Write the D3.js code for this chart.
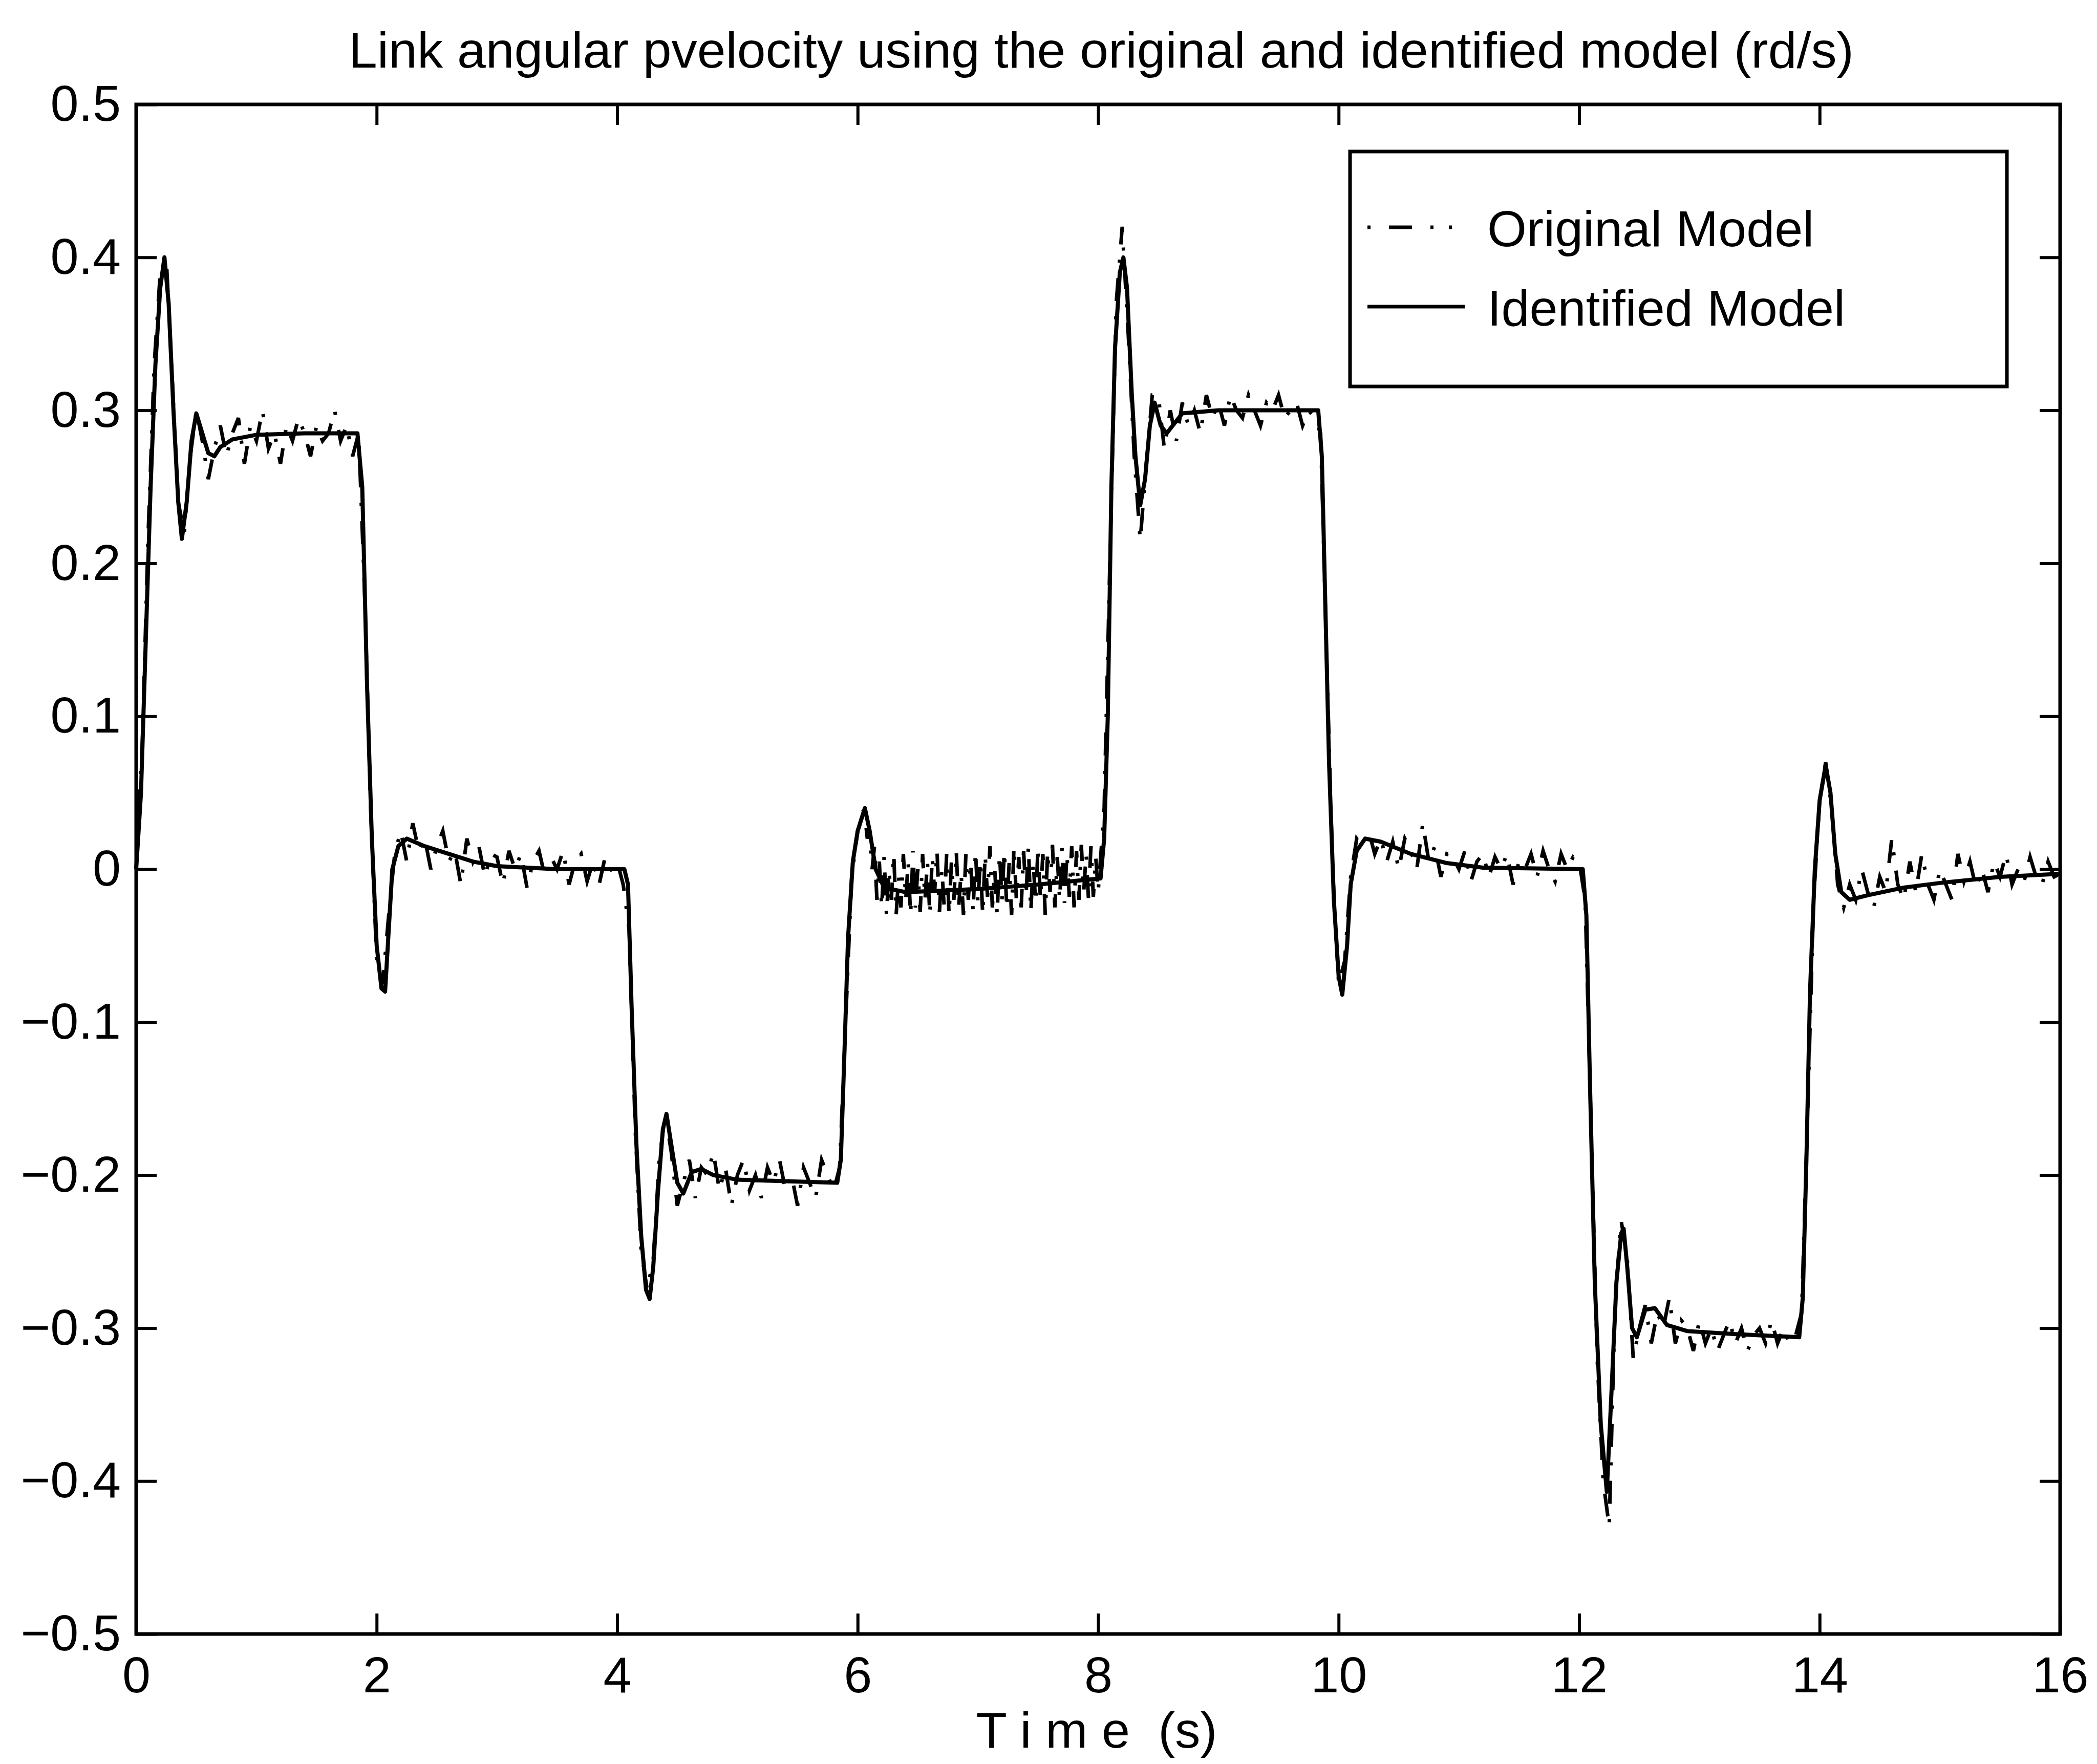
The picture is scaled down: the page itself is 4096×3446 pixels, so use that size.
<!DOCTYPE html>
<html lang="en">
<head>
  <meta charset="UTF-8">
  <title>Link angular velocity</title>
  <script src="https://cdn.jsdelivr.net/npm/d3@7"></script>
  <style>
    body { margin: 0; background: #fff; }
    text { font-family: "Liberation Sans", Arial, Helvetica, sans-serif; fill: #000; }
  </style>
</head>
<body>
  <div id="chart"></div>

  <script>
    const width = 4096,
      height = 3446;

    const margin = {left: 266, right: 4096 - 4024, top: 204, bottom: 3446 - 3192};

    const xTicks = [0, 2, 4, 6, 8, 10, 12, 14, 16];
    const yTicks = [-0.5, -0.4, -0.3, -0.2, -0.1, 0, 0.1, 0.2, 0.3, 0.4, 0.5];

    // identified model, read at uneven times
    const identTime = [
      0, 0.04, 0.08, 0.12, 0.16, 0.2, 0.235, 0.27, 0.31, 0.35, 0.38, 0.42, 0.46, 0.5, 0.55, 0.6, 0.65, 0.7, 0.8, 1.0, 1.4,
      1.84, 1.88, 1.92, 1.96, 2.0, 2.04, 2.07, 2.1, 2.13, 2.18, 2.25, 2.4, 2.6, 2.8, 3.0, 3.5,
      4.06, 4.09, 4.12, 4.16, 4.2, 4.24, 4.27, 4.3, 4.34, 4.38, 4.41, 4.45, 4.5, 4.55, 4.62, 4.7, 4.8, 5.0, 5.4,
      5.83, 5.86, 5.89, 5.92, 5.96, 6.0, 6.06, 6.1, 6.15, 6.22, 6.4, 7.0, 7.5,
      8.02, 8.05, 8.08, 8.11, 8.14, 8.18, 8.21, 8.24, 8.28, 8.31, 8.35, 8.39, 8.43, 8.47, 8.52, 8.57, 8.7, 9.0,
      9.83, 9.86, 9.89, 9.92, 9.96, 10.0, 10.03, 10.07, 10.1, 10.15, 10.22, 10.35, 10.6, 10.9, 11.2,
      12.03, 12.06, 12.09, 12.13, 12.18, 12.23, 12.27, 12.31, 12.35, 12.37, 12.4, 12.44, 12.48, 12.55, 12.63, 12.73, 12.9, 13.3,
      13.83, 13.86, 13.89, 13.92, 13.96, 14.0, 14.05, 14.09, 14.13, 14.18, 14.25, 14.4, 14.7, 15.0, 15.5, 16.0
    ];
    const identValue = [
      0, 0.05, 0.15, 0.25, 0.33, 0.38, 0.40, 0.37, 0.30, 0.24, 0.216, 0.24, 0.28, 0.298, 0.285, 0.272, 0.27, 0.276, 0.281, 0.284, 0.285,
      0.285, 0.25, 0.12, 0.02, -0.05, -0.078, -0.08, -0.04, 0.0, 0.015, 0.02, 0.015, 0.01, 0.005, 0.002, 0.0,
      0.0, -0.01, -0.09, -0.18, -0.24, -0.275, -0.281, -0.26, -0.21, -0.17, -0.16, -0.18, -0.205, -0.212, -0.198, -0.196, -0.2, -0.203, -0.204,
      -0.205, -0.19, -0.12, -0.045, 0.005, 0.025, 0.04, 0.025, 0.0, -0.012, -0.015, -0.013, -0.01,
      -0.006, 0.02, 0.1, 0.25, 0.34, 0.39, 0.40, 0.38, 0.31, 0.27, 0.238, 0.255, 0.29, 0.305, 0.29, 0.285, 0.298, 0.30,
      0.30, 0.27, 0.17, 0.07, -0.02, -0.07, -0.082, -0.05, -0.01, 0.012, 0.02, 0.018, 0.01, 0.004, 0.001,
      0.0, -0.03, -0.14, -0.27, -0.363, -0.407, -0.34, -0.27, -0.238, -0.235, -0.26, -0.3, -0.306, -0.288, -0.287, -0.298, -0.302, -0.304,
      -0.306, -0.28, -0.19, -0.08, 0.0, 0.045, 0.068, 0.05, 0.01, -0.015, -0.02, -0.017, -0.012, -0.009, -0.005, -0.003
    ];

    // original model, 0 - 5.95 s every 0.05 s (one row per second)
    const origA = [
      0.0, 0.08, 0.22, 0.33, 0.39, 0.40, 0.32, 0.24, 0.22, 0.27, 0.30, 0.28, 0.255, 0.275, 0.29, 0.27, 0.285, 0.295, 0.265, 0.29,
      0.28, 0.30, 0.275, 0.285, 0.265, 0.29, 0.28, 0.295, 0.285, 0.27, 0.29, 0.28, 0.285, 0.30, 0.28, 0.29, 0.27, 0.285, 0.18, 0.04,
      -0.06, -0.075, -0.03, 0.01, 0.025, 0.005, 0.03, 0.012, 0.02, 0.0, 0.015, 0.025, 0.005, 0.012, -0.01, 0.02, 0.005, 0.015, -0.005, 0.01,
      0.008, -0.01, 0.012, 0.0, 0.01, -0.012, 0.005, 0.012, -0.005, 0.008, 0.0, 0.012, -0.01, 0.005, 0.01, -0.008, 0.005, -0.01, 0.008, 0.0,
      0.005, -0.01, -0.04, -0.17, -0.25, -0.275, -0.255, -0.19, -0.16, -0.185, -0.22, -0.205, -0.19, -0.215, -0.195, -0.2, -0.185, -0.21, -0.195, -0.22,
      -0.2, -0.19, -0.21, -0.2, -0.215, -0.195, -0.205, -0.19, -0.21, -0.2, -0.22, -0.195, -0.205, -0.215, -0.19, -0.2, -0.21, -0.195, -0.1, -0.005
    ];
    // original model, 6 - 7.98 s every 0.02 s (chattering part)
    const origB = [
      0.025, 0.03, 0.04, 0.035, 0.02, 0.025, 0.0, 0.015, -0.02, 0.005, -0.025, 0.008, -0.03, 0.0, -0.02, 0.01, -0.03, -0.005, -0.025, 0.01,
      -0.02, 0.005, -0.03, 0.012, -0.025, 0.0, -0.028, 0.01, -0.02, 0.005, -0.03, 0.008, -0.015, 0.012, -0.028, 0.0, -0.025, 0.01, -0.03, 0.005,
      -0.02, 0.012, -0.025, -0.002, -0.03, 0.01, -0.02, 0.005, -0.028, 0.012, -0.022, 0.006, -0.03, 0.01, -0.018, 0.015, -0.025, 0.0, -0.03, 0.01,
      -0.02, 0.012, -0.026, 0.004, -0.03, 0.015, -0.02, 0.008, -0.025, 0.012, -0.018, 0.015, -0.028, 0.005, -0.022, 0.015, -0.02, 0.01, -0.03, 0.012,
      -0.015, 0.016, -0.025, 0.008, -0.02, 0.014, -0.022, 0.01, -0.018, 0.015, -0.025, 0.012, -0.02, 0.016, -0.015, 0.01, -0.02, 0.015, -0.018, 0.008
    ];
    // original model, 8 - 16 s every 0.05 s
    const origC = [
      -0.015, 0.04, 0.21, 0.37, 0.42, 0.35, 0.27, 0.215, 0.265, 0.31, 0.31, 0.275, 0.3, 0.28, 0.305, 0.29, 0.3, 0.285, 0.31, 0.295,
      0.305, 0.29, 0.31, 0.3, 0.295, 0.31, 0.3, 0.29, 0.305, 0.3, 0.31, 0.295, 0.3, 0.305, 0.29, 0.3, 0.295, 0.285, 0.14, 0.0,
      -0.075, -0.06, -0.005, 0.02, 0.015, 0.025, 0.01, 0.02, 0.005, 0.018, 0.0, 0.02, 0.012, 0.0, 0.03, 0.005, 0.015, -0.005, 0.01, 0.008,
      0.0, 0.012, -0.008, 0.005, 0.01, -0.005, 0.008, 0.0, 0.01, -0.01, 0.005, 0.0, 0.01, -0.005, 0.012, 0.0, -0.008, 0.01, 0.0, 0.008,
      0.005, -0.02, -0.17, -0.32, -0.40, -0.43, -0.28, -0.23, -0.255, -0.32, -0.3, -0.285, -0.31, -0.29, -0.3, -0.28, -0.31, -0.295, -0.3, -0.315,
      -0.295, -0.31, -0.3, -0.315, -0.305, -0.295, -0.31, -0.3, -0.315, -0.305, -0.3, -0.31, -0.295, -0.31, -0.3, -0.31, -0.305, -0.29, -0.16, -0.02,
      0.045, 0.07, 0.04, -0.01, -0.025, -0.01, -0.02, 0.0, -0.015, -0.025, -0.005, -0.015, 0.02, -0.01, -0.02, 0.005, -0.015, 0.01, -0.01, -0.02,
      0.0, -0.01, -0.02, 0.01, -0.008, 0.005, -0.012, 0.0, -0.015, 0.005, -0.005, 0.01, -0.01, 0.0, -0.008, 0.008, -0.005, -0.01, 0.005, -0.005, -0.003
    ];

    const seriesNames = ['Original Model', 'Identified Model'];

    const svg = d3.select('#chart')
      .append('svg')
        .attr('width', width)
        .attr('height', height);

    svg.append('rect')
      .attr('width', width)
      .attr('height', height)
      .attr('fill', '#fff');

    const x = d3.scaleLinear()
      .domain([0, 16])
      .range([margin.left, width - margin.right]);

    const y = d3.scaleLinear()
      .domain([-0.5, 0.5])
      .range([height - margin.bottom, margin.top]);

    const fontSize = 99;
    const tickLen = 40;
    const yFmt = d => d === 0 ? '0' : d3.format('.1f')(d);

    // axes, ticks point inward on all four sides
    const gx = svg.append('g')
      .attr('transform', `translate(0,${y(-0.5)})`)
      .call(d3.axisBottom(x).tickValues(xTicks).tickFormat(d3.format('d'))
        .tickSizeInner(-tickLen).tickSizeOuter(0).tickPadding(44));

    const gy = svg.append('g')
      .attr('transform', `translate(${x(0)},0)`)
      .call(d3.axisLeft(y).tickValues(yTicks).tickFormat(yFmt)
        .tickSizeInner(-tickLen).tickSizeOuter(0).tickPadding(30));

    const gxTop = svg.append('g')
      .attr('transform', `translate(0,${y(0.5)})`)
      .call(d3.axisTop(x).tickValues(xTicks).tickFormat('')
        .tickSizeInner(-tickLen).tickSizeOuter(0));

    const gyRight = svg.append('g')
      .attr('transform', `translate(${x(16)},0)`)
      .call(d3.axisRight(y).tickValues(yTicks).tickFormat('')
        .tickSizeInner(-tickLen).tickSizeOuter(0));

    [gx, gy, gxTop, gyRight].forEach(g => {
      g.select('.domain').remove();
      g.selectAll('.tick line').attr('stroke', '#000').attr('stroke-width', 6);
      g.selectAll('.tick text')
        .style('font-size', fontSize + 'px')
        .style('font-family', '"Liberation Sans", Arial, sans-serif')
        .attr('fill', '#000');
    });

    // data lines
    const line = d3.line()
      .x(d => x(d[0]))
      .y(d => y(d[1]));

    const original = [].concat(
      origA.map((v, i) => [i * 0.05, v]),
      origB.map((v, i) => [6 + i * 0.02, v]),
      origC.map((v, i) => [8 + i * 0.05, v])
    );
    const identified = identTime.map((t, i) => [t, identValue[i]]);

    svg.append('path')
      .datum(original)
      .attr('d', line)
      .attr('fill', 'none')
      .attr('stroke', '#000')
      .attr('stroke-width', 7)
      .attr('stroke-dasharray', '45 30 6 30');

    svg.append('path')
      .datum(identified)
      .attr('d', line)
      .attr('fill', 'none')
      .attr('stroke', '#000')
      .attr('stroke-width', 8)
      .attr('stroke-linejoin', 'round');

    // frame
    svg.append('rect')
      .attr('x', x(0))
      .attr('y', y(0.5))
      .attr('width', x(16) - x(0))
      .attr('height', y(-0.5) - y(0.5))
      .attr('fill', 'none')
      .attr('stroke', '#000')
      .attr('stroke-width', 7);

    // legend
    const legend = svg.append('g');
    legend.append('rect')
      .attr('x', 2637)
      .attr('y', 296)
      .attr('width', 1283)
      .attr('height', 459)
      .attr('fill', '#fff')
      .attr('stroke', '#000')
      .attr('stroke-width', 7);

    const legendRows = legend.selectAll('g.row')
      .data(seriesNames)
      .join('g')
        .attr('class', 'row')
        .attr('transform', (d, i) => `translate(2671,${444 + i * 155})`);

    legendRows.append('line')
      .attr('x1', 0)
      .attr('x2', 190)
      .attr('stroke', '#000')
      .attr('stroke-width', 7)
      .attr('stroke-dasharray', (d, i) => i === 0 ? '6 36 45 36 6 30' : null);

    legendRows.append('text')
      .attr('x', 234)
      .attr('y', 37)
      .style('font-size', fontSize + 'px')
      .text(d => d);

    // title and axis label
    svg.append('text')
      .attr('x', 2151)
      .attr('y', 132)
      .attr('text-anchor', 'middle')
      .attr('textLength', 2940)
      .attr('lengthAdjust', 'spacingAndGlyphs')
      .style('font-size', '99px')
      .text('Link angular pvelocity using the original and identified model (rd/s)');

    svg.append('text')
      .attr('x', 2142)
      .attr('y', 3414)
      .attr('text-anchor', 'middle')
      .style('font-size', fontSize + 'px')
      .style('white-space', 'pre')
      .text('T i m e  (s)');
  </script>
</body>
</html>
